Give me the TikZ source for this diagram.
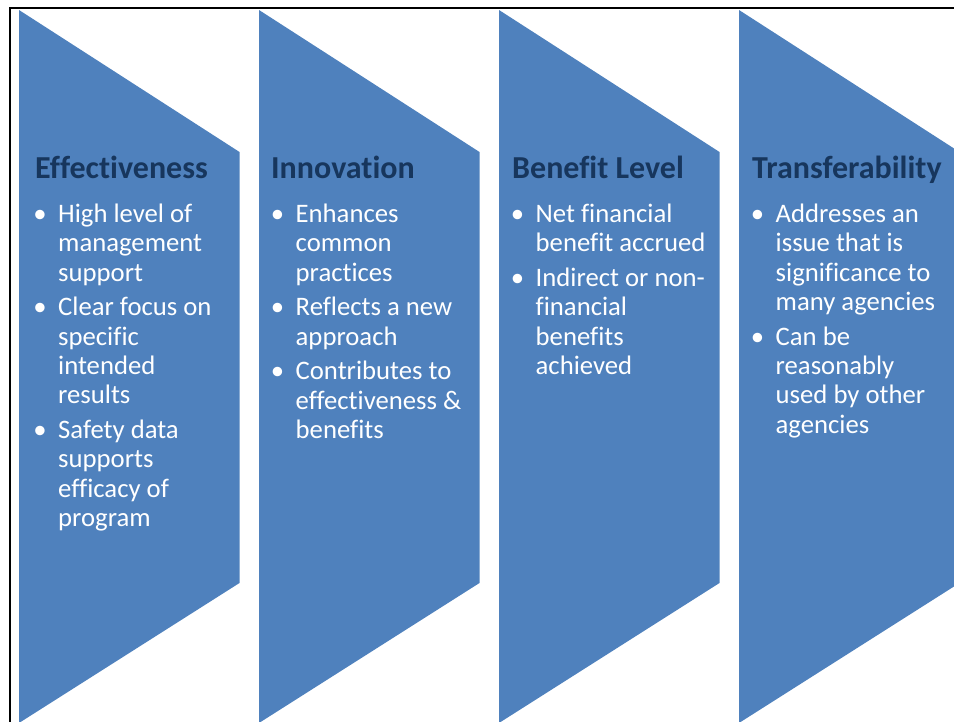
\documentclass[tikz,border=0pt]{standalone}
\usepackage{fontspec}
\setmainfont{Carlito}[Ligatures=NoCommon]
\definecolor{chev}{HTML}{4F81BD}
\definecolor{ttl}{HTML}{17365D}
\newcommand\colbody[1]{\parbox[t]{280pt}{\fontsize{26.7}{29.3}\selectfont\raggedright\leftskip=17pt\relax #1\par}}
\newcommand\bfirst{\noindent\llap{\textbullet\hspace{11.5pt}}}
\newcommand\bnext{\par\vspace{5.5pt}\noindent\llap{\textbullet\hspace{11.5pt}}}
\begin{document}
\begin{tikzpicture}[x=1pt,y=-1pt,
  chevron/.style={fill=chev},
  title/.style={anchor=base west, inner sep=0pt, font=\fontsize{32}{36}\selectfont\bfseries, text=ttl},
  body/.style={anchor=base west, inner sep=0pt, text=white}]
\useasboundingbox (0,0) rectangle (954,722);
\begin{scope}
\clip (0,0) rectangle (954,722);
\foreach \i in {0,1,2,3}{
  \pgfmathsetmacro\L{19+240*\i}
  \fill[chev] (\L,10) -- (\L+220.5,152) -- (\L+220.5,583) -- (\L,723) -- cycle;
}
\draw[line width=2.3pt] (10,730) -- (10,8) -- (960,8);
\end{scope}
\node[title] (t1) at (35,179) {Effectiveness};
\node[title] (t2) at (271,179) {Innovation};
\node[title] (t3) at (512,179) {Benefit Level};
\node[title] (t4) at (752,179) {Transferability};
\node[body] (b1) at (41,222.5) {\colbody{\bfirst High level of\\management\\support\bnext Clear focus on\\specific\\intended\\results\bnext Safety data\\supports\\efficacy of\\program}};
\node[body] (b2) at (278.5,222.5) {\colbody{\bfirst Enhances\\common\\practices\bnext Reflects a new\\approach\bnext Contributes to\\effectiveness \&\\benefits}};
\node[body] (b3) at (518.5,222.5) {\colbody{\bfirst Net financial\\benefit accrued\bnext Indirect or non-\\financial\\benefits\\achieved}};
\node[body] (b4) at (758.5,222.5) {\colbody{\bfirst Addresses an\\issue that is\\significance to\\many agencies\bnext Can be\\reasonably\\used by other\\agencies}};
\end{tikzpicture}
\end{document}
